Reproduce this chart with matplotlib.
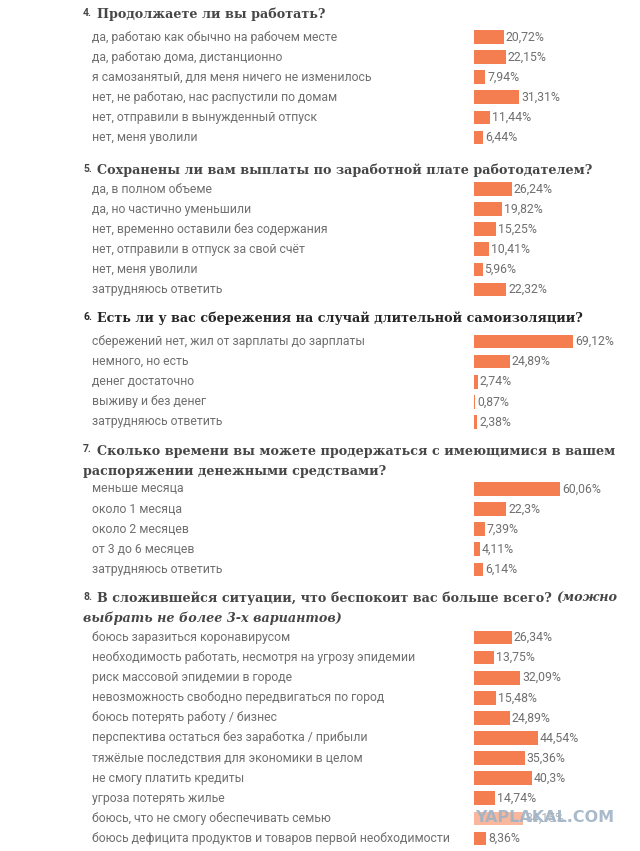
import matplotlib
matplotlib.use("Agg")
import matplotlib.pyplot as plt
import matplotlib.transforms as mtransforms

# ---------------- data ----------------
q4_title = "Продолжаете ли вы работать?"
q4_labels = ["да, работаю как обычно на рабочем месте", "да, работаю дома, дистанционно",
             "я самозанятый, для меня ничего не изменилось", "нет, не работаю, нас распустили по домам",
             "нет, отправили в вынужденный отпуск", "нет, меня уволили"]
q4_values = [20.72, 22.15, 7.94, 31.31, 11.44, 6.44]

q5_title = "Сохранены ли вам выплаты по заработной плате работодателем?"
q5_labels = ["да, в полном объеме", "да, но частично уменьшили", "нет, временно оставили без содержания",
             "нет, отправили в отпуск за свой счёт", "нет, меня уволили", "затрудняюсь ответить"]
q5_values = [26.24, 19.82, 15.25, 10.41, 5.96, 22.32]

q6_title = "Есть ли у вас сбережения на случай длительной самоизоляции?"
q6_labels = ["сбережений нет, жил от зарплаты до зарплаты", "немного, но есть", "денег достаточно",
             "выживу и без денег", "затрудняюсь ответить"]
q6_values = [69.12, 24.89, 2.74, 0.87, 2.38]

q7_title = ["Сколько времени вы можете продержаться с имеющимися в вашем",
            "распоряжении денежными средствами?"]
q7_labels = ["меньше месяца", "около 1 месяца", "около 2 месяцев", "от 3 до 6 месяцев", "затрудняюсь ответить"]
q7_values = [60.06, 22.3, 7.39, 4.11, 6.14]

q8_title = ["В сложившейся ситуации, что беспокоит вас больше всего? ", "(можно",
            "выбрать не более 3-х вариантов)"]
q8_labels = ["боюсь заразиться коронавирусом", "необходимость работать, несмотря на угрозу эпидемии",
             "риск массовой эпидемии в городе", "невозможность свободно передвигаться по город",
             "боюсь потерять работу / бизнес", "перспектива остаться без заработка / прибыли",
             "тяжёлые последствия для экономики в целом", "не смогу платить кредиты",
             "угроза потерять жилье", "боюсь, что не смогу обеспечивать семью",
             "боюсь дефицита продуктов и товаров первой необходимости", ""]
q8_values = [26.34, 13.75, 32.09, 15.48, 24.89, 44.54, 35.36, 40.3, 14.74, 34.15, 8.36, 16.5]

numbers = ["4.", "5.", "6.", "7.", "8."]
watermark = "YAPLAKAL.COM"

# ---------------- style ----------------
W, H = 640, 851
BAR = "#F57E50"
LABEL_C = "#6f6f6f"
TITLE_C = "#474747"
SANS = ["Roboto", "DejaVu Sans"]
SERIF = ["DejaVu Serif"]
PX_PER_PCT = 1.437
BAR_X0 = 474
ROW = 20.1

fig = plt.figure(figsize=(W / 100, H / 100), dpi=100)
fig.patch.set_facecolor("white")
renderer = fig.canvas.get_renderer()


def fx(x):
    return x / W


def fy(y):
    return 1 - y / H


def title_line(parts, y, color, x):
    """parts: list of (text, style)"""
    for text, style in parts:
        t = fig.text(fx(x), fy(y), text, fontsize=9.2, fontweight="bold", fontstyle=style,
                     family=SERIF, color=color, va="center", ha="left")
        bb = t.get_window_extent(renderer=renderer)
        x += bb.width


def section(num, title_lines, labels, values, first_row_y, title_color=TITLE_C):
    # title
    fig.text(fx(83), fy(title_lines[0][1] - 1.5), num, fontsize=7.5, family=SANS,
             fontweight="bold", color=title_color, va="center", ha="left")
    for k, (parts, y) in enumerate(title_lines):
        title_line(parts, y, title_color, 97 if k == 0 else 83)
    n = len(values)
    top = first_row_y - ROW / 2
    ax = fig.add_axes([fx(BAR_X0), fy(top + n * ROW), fx(W - BAR_X0), n * ROW / H])
    ax.set_xlim(0, (W - BAR_X0) / PX_PER_PCT)
    ax.set_ylim(n - 0.5, -0.5)
    ax.axis("off")
    ax.barh(range(n), values, height=0.68, color=BAR, edgecolor="none")
    trans = mtransforms.blended_transform_factory(fig.transFigure, ax.transData)
    for i, (lab, v) in enumerate(zip(labels, values)):
        if lab:
            ax.text(fx(92), i, lab, transform=trans, fontsize=8.8, family=SANS,
                    color=LABEL_C, va="center", ha="left")
            ax.text(v + 2 / PX_PER_PCT, i, f"{v:g}".replace(".", ",") + "%", fontsize=8.8,
                    family=SANS, color=LABEL_C, va="center", ha="left")
    return ax


section(numbers[0], [([(q4_title, "normal")], 14)], q4_labels, q4_values, 37)
section(numbers[1], [([(q5_title, "normal")], 170)], q5_labels, q5_values, 189)
section(numbers[2], [([(q6_title, "normal")], 318)], q6_labels, q6_values, 341.5,
        title_color="#262626")
section(numbers[3], [([(q7_title[0], "normal")], 451), ([(q7_title[1], "normal")], 471)],
        q7_labels, q7_values, 489)
section(numbers[4], [([(q8_title[0], "normal"), (q8_title[1], "italic")], 598),
                     ([(q8_title[2], "italic")], 618)],
        q8_labels, q8_values, 637.5)

# watermark (overlays the chart in the reference)
fig.text(fx(545), fy(818), watermark, fontsize=11.5, fontweight="bold", family=["DejaVu Sans"],
         color="#9fb3c6", alpha=0.9, ha="center", va="center", zorder=10,
         bbox=dict(boxstyle="square,pad=0.15", facecolor="white", edgecolor="none", alpha=0.45))

fig.savefig("out.png", dpi=100, facecolor="white")
